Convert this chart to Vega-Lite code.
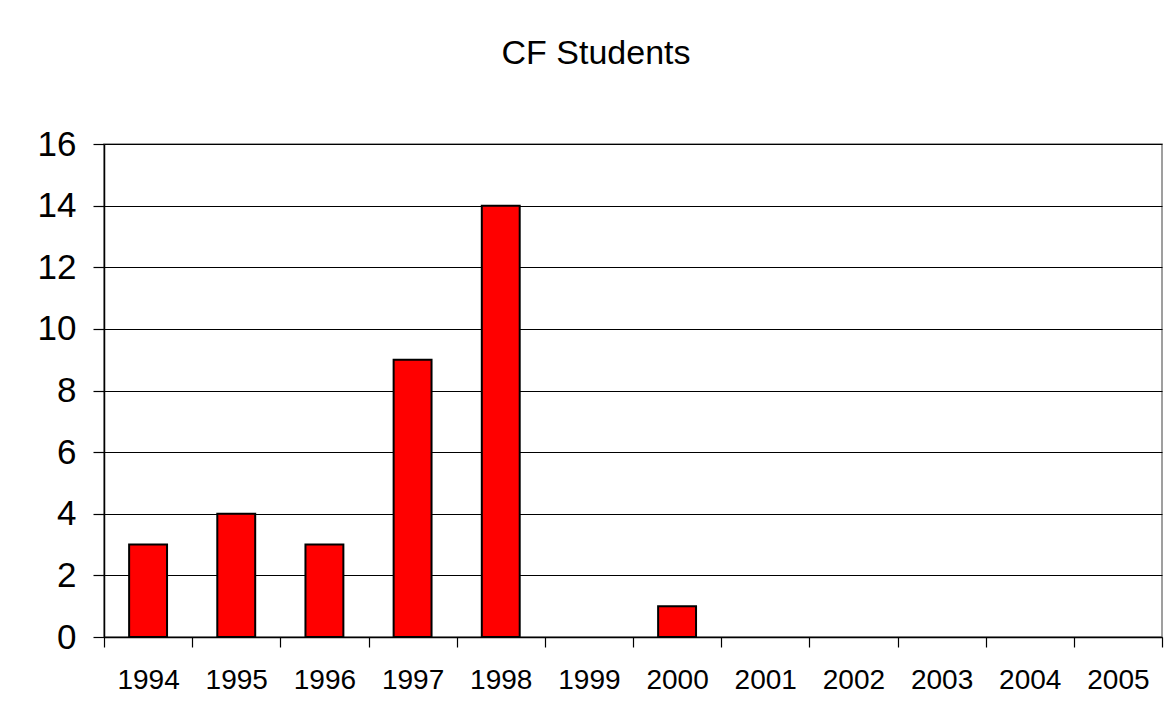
{
  "$schema": "https://vega.github.io/schema/vega-lite/v6.json",
  "autosize": "none",
  "width": 1058,
  "height": 493,
  "padding": {"left": 104, "top": 144, "right": 13, "bottom": 89},
  "background": "white",
  "title": {
    "text": "CF Students",
    "font": "Liberation Sans",
    "fontSize": 34,
    "fontWeight": "normal",
    "color": "black",
    "anchor": "middle",
    "frame": "group",
    "dx": -37,
    "offset": 56
  },
  "data": {
    "values": [
      {"year": "1994", "students": 3},
      {"year": "1995", "students": 4},
      {"year": "1996", "students": 3},
      {"year": "1997", "students": 9},
      {"year": "1998", "students": 14},
      {"year": "1999", "students": null},
      {"year": "2000", "students": 1},
      {"year": "2001", "students": null},
      {"year": "2002", "students": null},
      {"year": "2003", "students": null},
      {"year": "2004", "students": null},
      {"year": "2005", "students": null}
    ]
  },
  "mark": {"type": "bar", "fill": "#FF0000", "stroke": "black", "strokeWidth": 2, "width": {"band": 0.43}},
  "encoding": {
    "x": {
      "field": "year",
      "type": "ordinal",
      "sort": null,
      "scale": {
        "domain": ["1994", "1995", "1996", "1997", "1998", "1999", "2000", "2001", "2002", "2003", "2004", "2005"],
        "paddingInner": 0,
        "paddingOuter": 0
      },
      "axis": {
        "title": null,
        "labelAngle": 0,
        "labelFont": "Liberation Sans",
        "labelFontSize": 28,
        "labelColor": "black",
        "labelPadding": 19,
        "ticks": true,
        "tickSize": 10,
        "tickBand": "extent",
        "tickColor": "black",
        "tickWidth": 1.2,
        "domainColor": "black",
        "domainWidth": 1.5,
        "grid": false
      }
    },
    "y": {
      "field": "students",
      "type": "quantitative",
      "scale": {"domain": [0, 16], "nice": false},
      "axis": {
        "title": null,
        "values": [0, 2, 4, 6, 8, 10, 12, 14, 16],
        "labelFont": "Liberation Sans",
        "labelFontSize": 35,
        "labelColor": "black",
        "labelPadding": 17,
        "tickSize": 11,
        "tickColor": "black",
        "tickWidth": 1.2,
        "domainColor": "black",
        "domainWidth": 1.5,
        "grid": true,
        "gridColor": "black",
        "gridWidth": 1,
        "gridOpacity": 1
      }
    }
  },
  "config": {
    "view": {"stroke": "#808080", "strokeWidth": 1.5},
    "axis": {"labelFlush": false, "labelOverlap": false}
  }
}
